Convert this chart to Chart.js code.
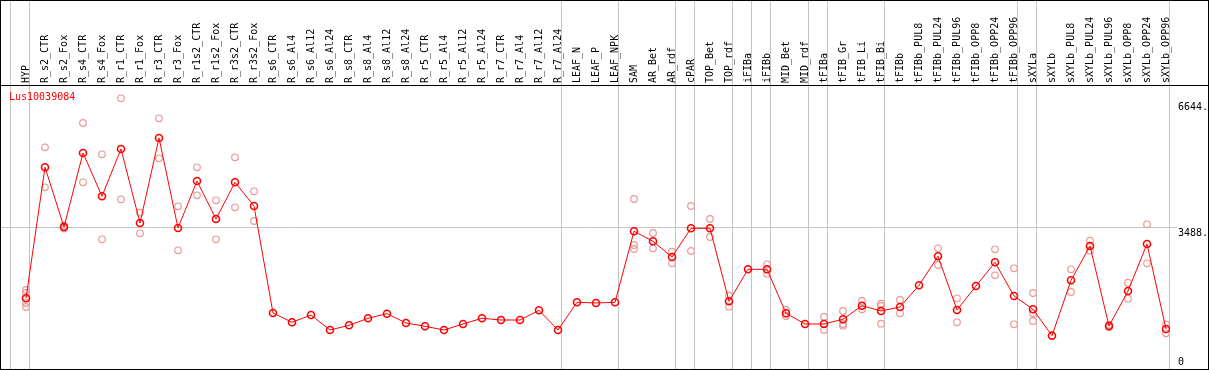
<!DOCTYPE html>
<html>
<head>
<meta charset="utf-8">
<script src="https://cdn.jsdelivr.net/npm/chart.js@4.4.1/dist/chart.umd.min.js"></script>
<style>
  body { margin: 0; background: #fff; }
  .frame { width: 1209px; height: 370px; border: 1px solid #000; box-sizing: border-box; }
  canvas { display: block; }
</style>
</head>
<body>
<div class="frame"><canvas id="chart" width="1207" height="368"></canvas></div>
<script>
const geneName = "Lus10039084";

const categories = [
  "HYP", "R_s2_CTR", "R_s2_Fox", "R_s4_CTR", "R_s4_Fox", "R_r1_CTR", "R_r1_Fox", "R_r3_CTR", "R_r3_Fox",
  "R_r1s2_CTR", "R_r1s2_Fox", "R_r3s2_CTR", "R_r3s2_Fox", "R_s6_CTR", "R_s6_Al4", "R_s6_Al12", "R_s6_Al24",
  "R_s8_CTR", "R_s8_Al4", "R_s8_Al12", "R_s8_Al24", "R_r5_CTR", "R_r5_Al4", "R_r5_Al12", "R_r5_Al24",
  "R_r7_CTR", "R_r7_Al4", "R_r7_Al12", "R_r7_Al24", "LEAF_N", "LEAF_P", "LEAF_NPK", "SAM", "AR_Bet", "AR_rdf",
  "cPAR", "TOP_Bet", "TOP_rdf", "iFIBa", "iFIBb", "MID_Bet", "MID_rdf", "tFIBa", "tFIB_Gr", "tFIB_Li", "tFIB_Bi",
  "tFIBb", "tFIBb_PUL8", "tFIBb_PUL24", "tFIBb_PUL96", "tFIBb_OPP8", "tFIBb_OPP24", "tFIBb_OPP96",
  "sXYLa", "sXYLb", "sXYLb_PUL8", "sXYLb_PUL24", "sXYLb_PUL96", "sXYLb_OPP8", "sXYLb_OPP24", "sXYLb_OPP96"
];

// last category index of each tissue group (vertical separators)
const groupEnds = [-1, 0, 28, 31, 34, 35, 37, 38, 39, 41, 42, 45, 52, 53, 60];

// mean expression (red line)
const meanValues = [
  1720, 5014, 3513, 5374, 4285, 5474, 3613, 5751, 3488, 4669, 3714, 4637, 4041,
  1350, 1116, 1300, 923, 1041, 1217, 1333, 1099, 1016, 923, 1074, 1217, 1174, 1174, 1418, 923,
  1619, 1602, 1619, 3405, 3153, 2758, 3480, 3480, 1644, 2449, 2449, 1343, 1074, 1074, 1192, 1534, 1401,
  1501, 2047, 2776, 1426, 2029, 2625, 1778, 1443, 780, 2173, 3035, 1023, 1903, 3085, 948
];

// replicates (pink circles), null = no replicate
const rep1 = [
  1929, 5517, 3550, 6128, 5341, 6749, 3872, 6246, 4033, 5014, 4184, 5265, 4410,
  null, null, null, null, null, null, null, null, null, null, null, null, null, null, null, null,
  null, null, null, 4217, 3362, 2892, 4041, 3714, 1785, null, 2575, 1426, null, 1257, 1401, 1652, 1584,
  1677, null, 2977, 1720, null, 2952, 2474, 1853, null, 2449, 3168, 1056, 2112, 3581, 1066
];
const rep2 = [
  1853, 4511, 3475, 4637, 3203, 4209, 3354, 5240, 2927, 4310, 3203, 4008, 3664,
  null, null, null, null, null, null, null, null, null, null, null, null, null, null, null, null,
  null, null, null, 3060, 2977, 2600, 2909, 3261, 1509, null, 2338, 1275, null, 923, 1074, 1443, 1526,
  1343, null, 2557, 1116, null, 2298, 1066, 1343, null, 1878, 2917, 991, 1710, 2600, 840
];
const rep3 = [
  1602, null, null, null, null, null, null, null, null, null, null, null, null,
  null, null, null, null, null, null, null, null, null, null, null, null, null, null, null, null,
  null, null, null, 2960, null, null, null, null, null, null, null, null, null, null, 1031, null, 1081,
  null, null, null, null, null, null, null, 1149, null, null, null, null, null, null, null
];
const rep4 = [
  1501, null, null, null, null, null, null, null, null, null, null, null, null,
  null, null, null, null, null, null, null, null, null, null, null, null, null, null, null, null,
  null, null, null, null, null, null, null, null, null, null, null, null, null, null, null, null, null,
  null, null, null, null, null, null, null, null, null, null, null, null, null, null, null
];

const yTickValues = [0, 3488, 6644];

const monoFont = { family: "'DejaVu Sans Mono', monospace", size: 10 };
const gridGray = "#c4c4c4";

function toPoints(arr) {
  return arr.map((v, i) => (v == null ? null : { x: i, y: v })).filter(p => p);
}

function repDataset(arr) {
  return {
    type: "scatter",
    data: toPoints(arr),
    showLine: false,
    pointRadius: 3.3,
    pointBorderWidth: 1.2,
    pointBorderColor: "#e99a9a",
    pointBackgroundColor: "transparent",
    order: 1
  };
}

// header separator and gene name
const framePlugin = {
  id: "framePlugin",
  afterDraw(chart) {
    const { ctx, chartArea, width } = chart;
    ctx.save();
    ctx.fillStyle = "#000";
    ctx.fillRect(0, chartArea.top - 1, width, 1);
    ctx.fillStyle = "#ff0000";
    ctx.font = "10px 'DejaVu Sans Mono', monospace";
    ctx.textBaseline = "middle";
    ctx.fillText(chart.data.datasets[0].label, chartArea.left + 8, chartArea.top + 11);
    ctx.restore();
  }
};

const ctx = document.getElementById("chart").getContext("2d");
const chart = new Chart(ctx, {
  type: "line",
  data: {
    datasets: [
      {
        label: geneName,
        data: toPoints(meanValues),
        borderColor: "#ff0000",
        borderWidth: 1,
        pointRadius: 3.5,
        pointBorderWidth: 1.6,
        pointBorderColor: "#ff0000",
        pointBackgroundColor: "transparent",
        tension: 0,
        order: 0
      },
      repDataset(rep1),
      repDataset(rep2),
      repDataset(rep3),
      repDataset(rep4)
    ]
  },
  options: {
    responsive: false,
    animation: false,
    layout: { padding: 0, autoPadding: false },
    plugins: {
      legend: { display: false },
      tooltip: { enabled: false }
    },
    scales: {
      x: {
        type: "linear",
        position: "top",
        min: -25 / 19,
        max: 60 + 4 / 19,
        afterBuildTicks: scale => {
          const t = categories.map((c, i) => i).concat(groupEnds.map(k => k + 0.21));
          t.sort((a, b) => a - b);
          scale.ticks = t.map(v => ({ value: v }));
        },
        afterFit: scale => {
          scale.height = 85;
          scale.paddingLeft = 0;
          scale.paddingRight = 0;
        },
        ticks: {
          autoSkip: false,
          minRotation: 90,
          maxRotation: 90,
          padding: -82,
          labelOffset: 12,
          color: "#000",
          font: monoFont,
          callback: v => (Number.isInteger(v) ? categories[v] : "")
        },
        grid: {
          drawTicks: true,
          tickLength: 85,
          color: c => (c.tick && Number.isInteger(c.tick.value) ? "transparent" : gridGray),
          lineWidth: 1
        },
        border: { display: false }
      },
      y: {
        type: "linear",
        position: "right",
        min: -58,
        max: 7058,
        afterBuildTicks: scale => {
          // the "0" label is held just inside the bottom edge
          const floor = scale.min + 0.04 * (scale.max - scale.min);
          scale.ticks = yTickValues.map(v => ({ value: Math.max(v, floor) }));
        },
        afterFit: scale => {
          scale.width = 38;
          scale.paddingTop = 0;
          scale.paddingBottom = 0;
        },
        ticks: {
          padding: 1,
          labelOffset: 5,
          color: "#000",
          font: monoFont,
          callback: (v, i) => (yTickValues[i] === 0 ? "0" : yTickValues[i] + ".")
        },
        grid: {
          drawTicks: true,
          tickLength: 7,
          color: c => (c.tick && c.tick.value === 3488 ? gridGray : "transparent")
        },
        border: { display: false }
      }
    }
  },
  plugins: [framePlugin]
});
</script>
</body>
</html>
